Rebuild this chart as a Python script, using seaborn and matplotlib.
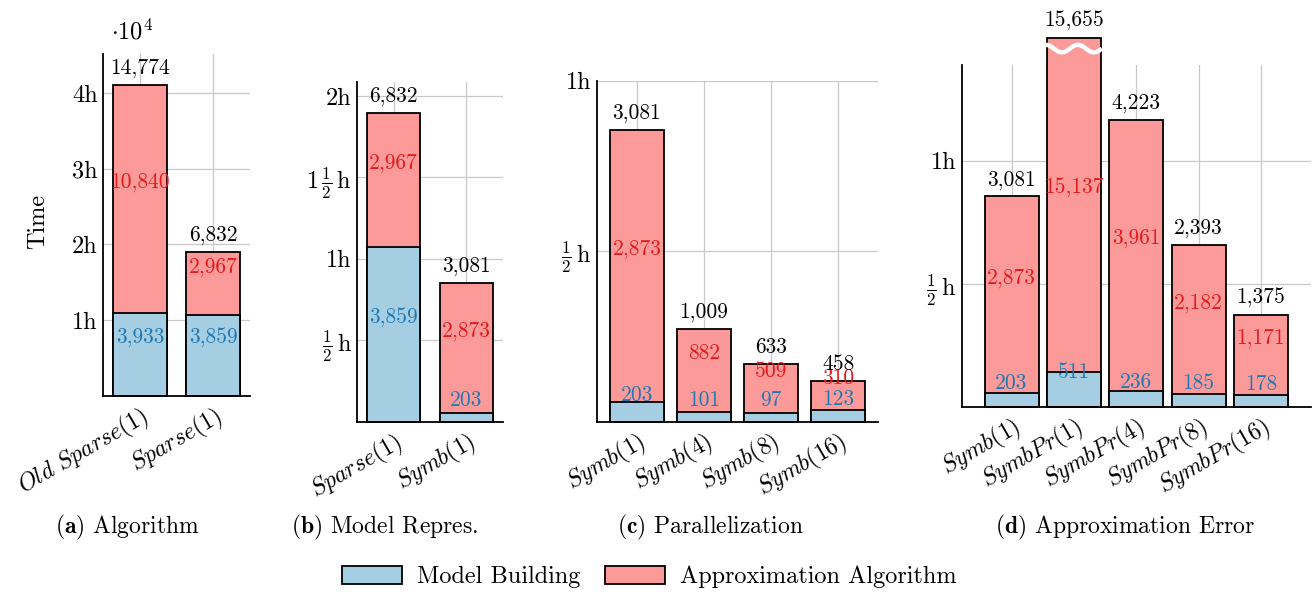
import numpy as np
import matplotlib
matplotlib.use("Agg")
import matplotlib.pyplot as plt
import matplotlib.transforms as mtransforms
import pandas as pd
import seaborn as sns
from matplotlib.patches import Patch

sns.set_theme(style="white")
plt.rcParams["font.family"] = ["cmr10"]
plt.rcParams["mathtext.fontset"] = "cm"
plt.rcParams["axes.formatter.use_mathtext"] = True
for key in ("text.color", "axes.labelcolor", "xtick.color", "ytick.color"):
    plt.rcParams[key] = "black"

# Run times in seconds: model building, approximation algorithm, measured total
algo_cats = [r"$Old\ Sparse(1)$", r"$Sparse(1)$"]
algo_model = [3933, 3859]
algo_approx = [10840, 2967]
algo_total = [14774, 6832]

repr_cats = [r"$Sparse(1)$", r"$Symb(1)$"]
repr_model = [3859, 203]
repr_approx = [2967, 2873]
repr_total = [6832, 3081]

par_cats = [r"$Symb(1)$", r"$Symb(4)$", r"$Symb(8)$", r"$Symb(16)$"]
par_model = [203, 101, 97, 123]
par_approx = [2873, 882, 509, 310]
par_total = [3081, 1009, 633, 458]

err_cats = [r"$Symb(1)$", r"$SymbPr(1)$", r"$SymbPr(4)$", r"$SymbPr(8)$", r"$SymbPr(16)$"]
err_model = [203, 511, 236, 185, 178]
err_approx = [2873, 15137, 3961, 2182, 1171]
err_total = [3081, 15655, 4223, 2393, 1375]

HALF = r"$\frac{1}{2}\,\mathrm{h}$"
ONE_HALF = r"$1\,\frac{1}{2}\,\mathrm{h}$"

BLUE = "#a6cee3"
RED = "#fb9a99"
BLUE_TXT = "#1f78b4"
RED_TXT = "#e31a1c"

W, H = 1312, 592
fig = plt.figure(figsize=(W / 100, H / 100), dpi=100)
shift_left = mtransforms.ScaledTranslation(-9 / 100, 0, fig.dpi_scale_trans)


def px_axes(left, top, right, bottom):
    return fig.add_axes([left / W, 1 - bottom / H, (right - left) / W, (bottom - top) / H])


def panel(ax, cats, model, approx, total, width, xlim, ylim, ticks, ticklabels, cap=None):
    stacked = [m + a for m, a in zip(model, approx)]
    shown = [min(s, cap) if cap else s for s in stacked]
    df = pd.DataFrame({"cat": cats, "stack": shown, "model": model})
    common = dict(data=df, x="cat", order=cats, saturation=1, edgecolor="black",
                  linewidth=1.3, width=width, errorbar=None, ax=ax)
    sns.barplot(y="stack", color=RED, **common)
    sns.barplot(y="model", color=BLUE, **common)
    for p in ax.patches:
        p.set_clip_on(False)
        p.set_zorder(3)

    lab = dict(textcoords="offset points", xytext=(0, 12), ha="center", va="center",
               fontsize=15.5, zorder=5, annotation_clip=False)
    for i in range(len(cats)):
        ax.annotate(f"{model[i]:,}", xy=(i, model[i] / 2), color=BLUE_TXT, **lab)
        ax.annotate(f"{approx[i]:,}", xy=(i, (model[i] + shown[i]) / 2), color=RED_TXT, **lab)
        ax.annotate(f"{total[i]:,}", xy=(i, shown[i]), color="black", **lab)

    ax.set_xlim(*xlim)
    ax.set_ylim(*ylim)
    ax.set_yticks(ticks)
    ax.set_yticklabels(ticklabels, fontsize=17.5)
    ax.set_xticks(range(len(cats)))
    ax.set_xticklabels(cats, rotation=30, ha="right", va="top",
                       rotation_mode="anchor", fontsize=17)
    for t in ax.get_xticklabels():
        t.set_transform(t.get_transform() + shift_left)
    ax.set_xlabel("")
    ax.set_ylabel("")
    ax.grid(True, color="#c8c8c8", lw=0.9)
    ax.set_axisbelow(True)
    for s in ("top", "right"):
        ax.spines[s].set_visible(False)
    for s in ("left", "bottom"):
        ax.spines[s].set_color("black")
        ax.spines[s].set_linewidth(1.3)
        ax.spines[s].set_zorder(4)
    ax.tick_params(axis="x", length=0, pad=5)
    ax.tick_params(axis="y", direction="in", length=4, color="#444444", pad=4)
    return shown


# (a) Algorithm
ax_a = px_axes(103.3, 54.3, 250, 395.7)
panel(ax_a, algo_cats, algo_model, algo_approx, algo_total, 0.74,
      (-0.5, 1.5), (0, 16250), [3600, 7200, 10800, 14400], ["1h", "2h", "3h", "4h"])
ax_a.set_ylabel("Time", fontsize=17.5)
ax_a.yaxis.set_label_coords(-0.37, 0.51)
ax_a.text(0.05, 1.065, r"$\cdot 10^{4}$", transform=ax_a.transAxes,
          ha="left", va="center", fontsize=17.5)

# (b) Model representation
ax_b = px_axes(357.3, 81.7, 502.7, 421.7)
panel(ax_b, repr_cats, repr_model, repr_approx, repr_total, 0.737,
      (-0.5, 1.5), (0, 7515), [1800, 3600, 5400, 7200], [HALF, "1h", ONE_HALF, "2h"])

# (c) Parallelization
ax_c = px_axes(596.7, 80.7, 878.3, 421.7)
panel(ax_c, par_cats, par_model, par_approx, par_total, 0.806,
      (-0.6, 3.6), (0, 3600), [1800, 3600], [HALF, "1h"])

# (d) Approximation error, with the out-of-range bar cut above the axis
ax_d = px_axes(961.7, 65, 1310.7, 406.7)
d_top = 5000
d_cap = d_top * 1.08
shown_d = panel(ax_d, err_cats, err_model, err_approx, err_total, 0.867,
                (-0.8, 4.8), (0, d_top), [1800, 3600], [HALF, "1h"], cap=d_cap)
for i, (s, full) in enumerate(zip(shown_d, [m + a for m, a in zip(err_model, err_approx)])):
    if s < full:
        xs = np.linspace(i - 0.867 / 2 - 0.015, i + 0.867 / 2 + 0.015, 200)
        ys = d_cap - 160 + 55 * np.sin(2 * np.pi * 1.75 * (xs - xs[0]) / (xs[-1] - xs[0]) + np.pi / 2)
        ax_d.plot(xs, ys, color="white", lw=3.2, zorder=6, clip_on=False,
                  solid_capstyle="butt")

# Sub-captions
caps = [(127, r"$\mathbf{(a)}$ Algorithm"), (385, r"$\mathbf{(b)}$ Model Repres."),
        (710, r"$\mathbf{(c)}$ Parallelization"), (1125, r"$\mathbf{(d)}$ Approximation Error")]
for xc, txt in caps:
    fig.text(xc / W, 1 - 527 / H, txt, ha="center", va="center", fontsize=17)

handles = [Patch(facecolor=BLUE, edgecolor="black", lw=1.3),
           Patch(facecolor=RED, edgecolor="black", lw=1.3)]
fig.legend(handles, ["Model Building", "Approximation Algorithm"], loc="center",
           bbox_to_anchor=(649 / W, 1 - 577 / H), ncol=2, frameon=False,
           fontsize=17.5, handlelength=2.5, handleheight=0.8, handletextpad=0.6,
           columnspacing=1.0)

fig.savefig("out.png", dpi=100)
